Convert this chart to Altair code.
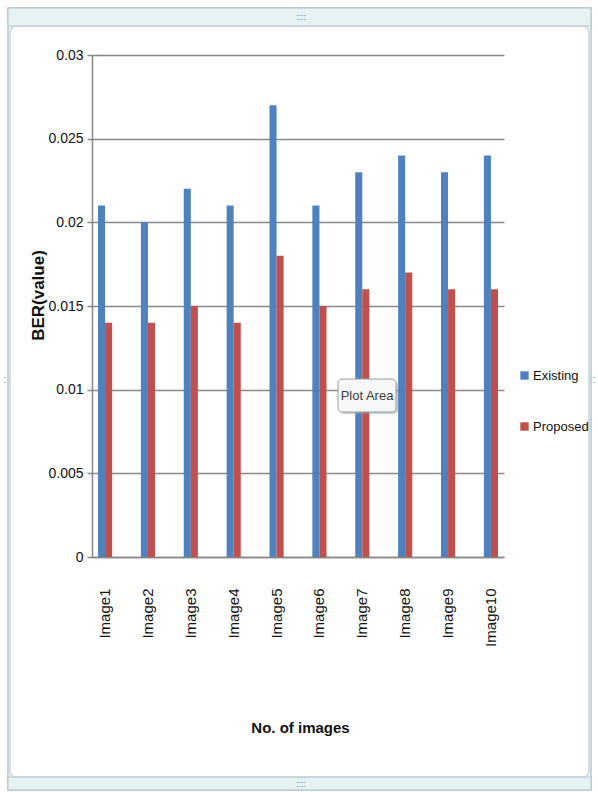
import altair as alt
import pandas as pd

# Bit error rate per test image for the two methods
images = ["Image1", "Image2", "Image3", "Image4", "Image5",
          "Image6", "Image7", "Image8", "Image9", "Image10"]
existing = [0.021, 0.020, 0.022, 0.021, 0.027, 0.021, 0.023, 0.024, 0.023, 0.024]
proposed = [0.014, 0.014, 0.015, 0.014, 0.018, 0.015, 0.016, 0.017, 0.016, 0.016]
series = ["Existing", "Proposed"]
series_colors = ["#4F81BD", "#C0504D"]
y_ticks = [0, 0.005, 0.01, 0.015, 0.02, 0.025, 0.03]

rows = []
for img, e, p in zip(images, existing, proposed):
    rows.append({"image": img, "series": series[0], "ber": e})
    rows.append({"image": img, "series": series[1], "ber": p})
df = pd.DataFrame(rows)

FONT = "Liberation Sans"
W, H = 412, 502

bars = alt.Chart(df).mark_bar().encode(
    x=alt.X("image:N", sort=images,
            scale=alt.Scale(paddingInner=0.67, paddingOuter=0.14),
            axis=alt.Axis(title="No. of images", labelAngle=270, labelPadding=31,
                          labelFontSize=15, labelColor="#111", ticks=False,
                          domainColor="#878787", domainWidth=1.5,
                          titleFontSize=15, titleFontWeight="bold", titleColor="#111",
                          titleX=208, titleY=170, titleBaseline="middle",
                          titleAlign="center")),
    xOffset=alt.XOffset("series:N", sort=series,
                        scale=alt.Scale(paddingInner=0, paddingOuter=0)),
    y=alt.Y("ber:Q", scale=alt.Scale(domain=[0, 0.03], nice=False),
            axis=alt.Axis(title="BER(value)", values=y_ticks, format="~g",
                          labelFontSize=14, labelColor="#111", labelPadding=4,
                          tickSize=5, tickColor="#878787", tickWidth=1.5,
                          grid=True, gridColor="#878787", gridWidth=1.5,
                          domainColor="#878787", domainWidth=1.5,
                          titleFontSize=17, titleFontWeight="bold", titleColor="#111",
                          titleAngle=270, titleX=-54, titleY=240,
                          titleBaseline="middle", titleAlign="center")),
    color=alt.Color("series:N", sort=series,
                    scale=alt.Scale(domain=series, range=series_colors),
                    legend=alt.Legend(title=None, orient="none", legendX=426, legendY=314,
                                      symbolType="square", symbolSize=70,
                                      symbolStrokeWidth=0, labelFontSize=13,
                                      labelColor="#111", rowPadding=37,
                                      labelOffset=2)),
)

# Chart-object frame: outer border, top and bottom handle bands
frame_fill = "#e6f2f4"
frame_line = "#b4c4cc"
outer = alt.Chart().mark_rect(fill=None, stroke=frame_line, strokeWidth=1.5).encode(
    x=alt.value(-84), x2=alt.value(499), y=alt.value(-47), y2=alt.value(735))
top_band = alt.Chart().mark_rect(fill=frame_fill, stroke=frame_line, strokeWidth=1).encode(
    x=alt.value(-84), x2=alt.value(499), y=alt.value(-47), y2=alt.value(-29))
bottom_band = alt.Chart().mark_rect(fill=frame_fill, stroke=frame_line, strokeWidth=1).encode(
    x=alt.value(-84), x2=alt.value(499), y=alt.value(722), y2=alt.value(735))
inner = alt.Chart().mark_rect(fill=None, stroke="#c5d2d9", strokeWidth=1.5,
                              cornerRadius=6).encode(
    x=alt.value(-82), x2=alt.value(497), y=alt.value(-29), y2=alt.value(722))
handle_top = alt.Chart().mark_text(text="::::", fontSize=9, color="#6f7f88",
                                   font=FONT).encode(x=alt.value(209), y=alt.value(-38))
handle_bottom = alt.Chart().mark_text(text="::::", fontSize=9, color="#6f7f88",
                                      font=FONT).encode(x=alt.value(209), y=alt.value(729))
handle_left = alt.Chart().mark_text(text=":", fontSize=10, color="#6f7f88",
                                    font=FONT).encode(x=alt.value(-87), y=alt.value(325))
handle_right = alt.Chart().mark_text(text=":", fontSize=10, color="#6f7f88",
                                     font=FONT).encode(x=alt.value(502), y=alt.value(325))

# "Plot Area" hover label
tip_shadow = alt.Chart().mark_rect(fill="#9aa3a8", opacity=0.5, cornerRadius=4).encode(
    x=alt.value(248), x2=alt.value(306), y=alt.value(326), y2=alt.value(359))
tip_box = alt.Chart().mark_rect(fill="#f5f7f9", stroke="#9a9a9a", strokeWidth=1,
                                cornerRadius=4).encode(
    x=alt.value(246), x2=alt.value(304), y=alt.value(324), y2=alt.value(357))
tip_text = alt.Chart().mark_text(text="Plot Area", fontSize=13, color="#3c3c3c",
                                 font=FONT).encode(x=alt.value(275), y=alt.value(341))

chart = alt.layer(
    bars, outer, top_band, bottom_band, inner, handle_top, handle_bottom,
    handle_left, handle_right, tip_shadow, tip_box, tip_text,
).properties(
    width=W, height=H,
    autosize=alt.AutoSizeParams(type="none"),
    padding={"left": 92, "top": 55, "right": 94, "bottom": 235},
    background="white",
).configure(
    font=FONT
).configure_view(
    stroke=None
)

chart.save("out.html", embed_options={"renderer": "svg", "actions": False})
